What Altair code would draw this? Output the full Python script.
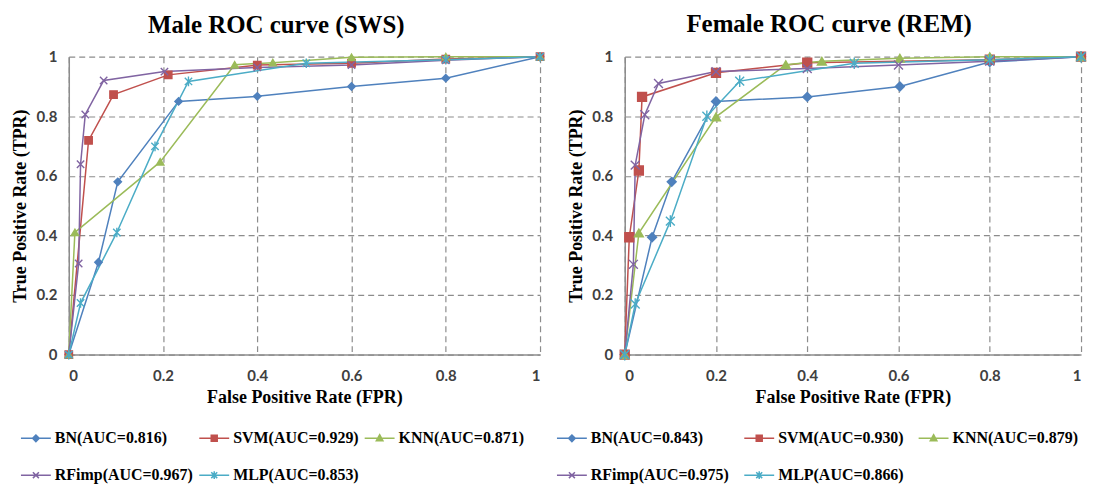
import altair as alt
import pandas as pd

SERIES = ["BN", "SVM", "KNN", "RFimp", "MLP"]
COLORS = ["#4F81BD", "#C0504D", "#9BBB59", "#8064A2", "#4BACC6"]
MARKERS = ["diamond", "square", "triangle-up",
           "M-1,-1L1,1M-1,1L1,-1",
           "M-1,-1L1,1M-1,1L1,-1M0,-1.3V1.3"]
LEGEND_SYMBOLS = [
    "M-1,0H1M0,-0.22L0.22,0L0,0.22L-0.22,0ZM0,-0.15L0.15,0L0,0.15L-0.15,0ZM0,-0.08L0.08,0L0,0.08L-0.08,0Z",
    "M-1,0H1M-0.2,-0.2H0.2V0.2H-0.2ZM-0.13,-0.13H0.13V0.13H-0.13ZM-0.06,-0.06H0.06V0.06H-0.06Z",
    "M-1,0H1M0,-0.24L0.22,0.16H-0.22ZM0,-0.14L0.13,0.1H-0.13ZM0,-0.05L0.05,0.05H-0.05Z",
    "M-1,0H1M-0.2,-0.2L0.2,0.2M-0.2,0.2L0.2,-0.2",
    "M-1,0H1M-0.2,-0.2L0.2,0.2M-0.2,0.2L0.2,-0.2M0,-0.26V0.26",
]
TICKS = [0, 0.2, 0.4, 0.6, 0.8, 1]

MALE_AUC = ["0.816", "0.929", "0.871", "0.967", "0.853"]
FEMALE_AUC = ["0.843", "0.930", "0.879", "0.975", "0.866"]

# Male ROC curve (SWS)
male_bn_x = [0, 0.063, 0.104, 0.233, 0.40, 0.60, 0.80, 1.0]
male_bn_y = [0, 0.31, 0.58, 0.85, 0.867, 0.90, 0.928, 1.0]
male_svm_x = [0, 0.042, 0.095, 0.211, 0.40, 0.60, 0.80, 1.0]
male_svm_y = [0, 0.719, 0.873, 0.939, 0.972, 0.978, 0.992, 1.0]
male_knn_x = [0, 0.013, 0.194, 0.352, 0.433, 0.60, 0.80, 1.0]
male_knn_y = [0, 0.41, 0.647, 0.973, 0.98, 0.998, 1.0, 1.0]
male_rf_x = [0, 0.021, 0.025, 0.035, 0.074, 0.203, 0.40, 0.60, 0.80, 1.0]
male_rf_y = [0, 0.306, 0.639, 0.806, 0.92, 0.95, 0.964, 0.972, 0.988, 1.0]
male_mlp_x = [0, 0.025, 0.102, 0.183, 0.254, 0.504, 0.80, 1.0]
male_mlp_y = [0, 0.173, 0.41, 0.699, 0.917, 0.978, 0.99, 1.0]

# Female ROC curve (REM)
female_bn_x = [0, 0.060, 0.103, 0.20, 0.40, 0.603, 0.80, 1.0]
female_bn_y = [0, 0.394, 0.58, 0.85, 0.865, 0.90, 0.982, 1.0]
female_svm_x = [0, 0.010, 0.031, 0.038, 0.20, 0.40, 0.80, 1.0]
female_svm_y = [0, 0.394, 0.618, 0.865, 0.946, 0.98, 0.99, 1.0]
female_knn_x = [0, 0.031, 0.20, 0.353, 0.432, 0.603, 0.80, 1.0]
female_knn_y = [0, 0.408, 0.798, 0.973, 0.985, 0.995, 1.0, 1.0]
female_rf_x = [0, 0.019, 0.023, 0.044, 0.074, 0.20, 0.40, 0.60, 0.80, 1.0]
female_rf_y = [0, 0.303, 0.636, 0.805, 0.91, 0.95, 0.96, 0.972, 0.985, 1.0]
female_mlp_x = [0, 0.023, 0.10, 0.18, 0.252, 0.503, 0.80, 1.0]
female_mlp_y = [0, 0.17, 0.448, 0.80, 0.918, 0.978, 0.99, 1.0]

MALE = [(male_bn_x, male_bn_y), (male_svm_x, male_svm_y), (male_knn_x, male_knn_y),
        (male_rf_x, male_rf_y), (male_mlp_x, male_mlp_y)]
FEMALE = [(female_bn_x, female_bn_y), (female_svm_x, female_svm_y), (female_knn_x, female_knn_y),
          (female_rf_x, female_rf_y), (female_mlp_x, female_mlp_y)]

SERIF = "Liberation Serif"


def ternary(values, default):
    expr = repr(default)
    for s, v in reversed(list(zip(SERIES, values))):
        expr = f"datum.value == '{s}' ? {v!r} : ({expr})"
    return expr


def panel(title, series_data, aucs, legend_x, legend_y, col_pad, psize, width, title_dx):
    rows = []
    for s, (xs, ys) in zip(SERIES, series_data):
        for i, (x, y) in enumerate(zip(xs, ys)):
            rows.append({"series": s, "fpr": x, "tpr": y, "idx": i})
    df = pd.DataFrame(rows)

    labels = [f"{s}(AUC={a})" for s, a in zip(SERIES, aucs)]
    legend = alt.Legend(
        title=None,
        orient="none",
        direction="horizontal",
        legendX=legend_x,
        legendY=legend_y,
        columns=3,
        gridAlign="each",
        columnPadding=col_pad,
        rowPadding=13,
        labelOffset=3,
        symbolSize=900,
        symbolStrokeWidth=1.5,
        symbolType={"expr": ternary(LEGEND_SYMBOLS, "circle")},
        labelExpr=ternary(labels, ""),
        labelFont=SERIF,
        labelFontWeight="bold",
        labelFontSize=16,
        labelColor="black",
        labelLimit=400,
    )

    axis_common = dict(
        values=TICKS, format="~g", ticks=False,
        gridColor="#8c8c8c", gridDash=[6, 4], gridWidth=1.2,
        domainColor="#8c8c8c", domainWidth=1.5,
        labelFont="Lato", labelFontWeight="bold", labelFontSize=15, labelColor="#404040",
        titleFont=SERIF, titleFontWeight="bold", titleFontSize=18, titleColor="black",
    )
    x = alt.X("fpr:Q", scale=alt.Scale(domain=[0, 1], nice=False),
              axis=alt.Axis(title="False Positive Rate (FPR)", labelPadding=14, titlePadding=5,
                            **axis_common))
    y = alt.Y("tpr:Q", scale=alt.Scale(domain=[0, 1], nice=False),
              axis=alt.Axis(title="True Positive Rate (TPR)", labelPadding=12, titlePadding=6,
                            **axis_common))

    line = alt.Chart(df).mark_line(strokeWidth=1.5).encode(
        x=x, y=y,
        color=alt.Color("series:N", scale=alt.Scale(domain=SERIES, range=COLORS), legend=legend),
        order="idx:Q",
    )
    pts = alt.Chart(df).mark_point(filled=True, size=psize, strokeWidth=1.4, opacity=1).encode(
        x=x, y=y,
        fill=alt.Fill("series:N", scale=alt.Scale(domain=SERIES, range=COLORS), legend=None),
        stroke=alt.Stroke("series:N", scale=alt.Scale(domain=SERIES, range=COLORS), legend=None),
        shape=alt.Shape("series:N", scale=alt.Scale(domain=SERIES, range=MARKERS), legend=None),
    )
    return alt.layer(line, pts).properties(
        width=width, height=299,
        title=alt.TitleParams(title, font=SERIF, fontSize=25, fontWeight="bold",
                              anchor="middle", frame="bounds", offset=11, color="black",
                              dx=title_dx),
    )


left = panel("Male ROC curve (SWS)", MALE, MALE_AUC, -49, 367, 3, 55, 473, -3)
right = panel("Female ROC curve (REM)", FEMALE, FEMALE_AUC, -69, 367, 12, 80, 458, 7)

chart = alt.hconcat(left, right, spacing=9).resolve_legend(color="independent").properties(
    padding={"left": 4, "top": 3, "right": 0, "bottom": 0}
).configure_view(strokeWidth=0)

chart.save("out.html", embed_options={"renderer": "svg", "actions": False})
